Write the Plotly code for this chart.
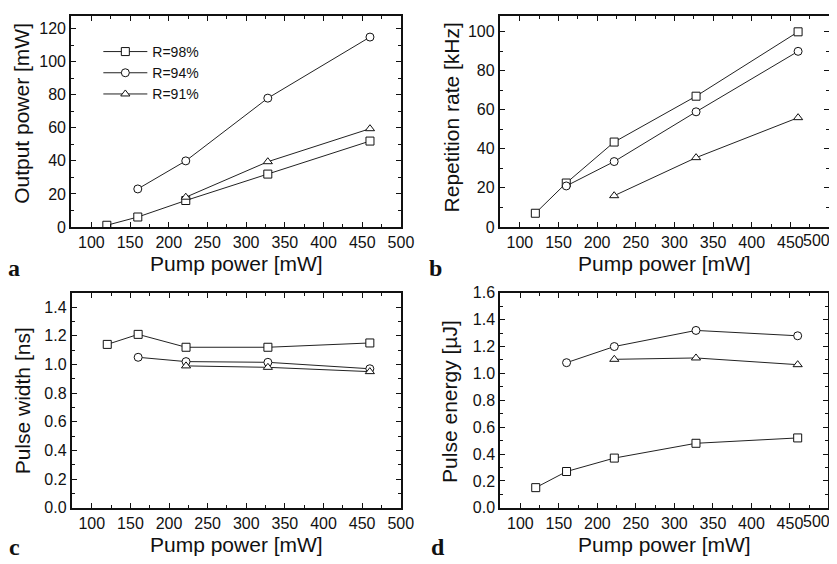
import plotly.graph_objects as go

W, H = 837, 564

pump = [120, 160, 222, 328, 460]
pump_94 = [160, 222, 328, 460]
pump_91 = [222, 328, 460]

# (a) Output power [mW]
out_98 = [1, 6, 16, 32, 52]
out_94 = [23, 40, 78, 115]
out_91 = [18, 39.5, 59.5]

# (b) Repetition rate [kHz]
rep_98 = [7, 22.5, 43.5, 67, 100]
rep_94 = [21, 33.5, 59, 90]
rep_91 = [16, 35.5, 56]

# (c) Pulse width [ns]
pw_98 = [1.14, 1.21, 1.12, 1.12, 1.15]
pw_94 = [1.05, 1.02, 1.015, 0.97]
pw_91 = [0.99, 0.98, 0.95]

# (d) Pulse energy [uJ]
pe_98 = [0.15, 0.27, 0.37, 0.48, 0.52]
pe_94 = [1.08, 1.20, 1.32, 1.28]
pe_91 = [1.105, 1.115, 1.065]

x_ticks = [100, 150, 200, 250, 300, 350, 400, 450, 500]

series_names = ["R=98%", "R=94%", "R=91%"]
symbols = ["square", "circle", "triangle-up"]

panels = [
    ("x", "y", [out_98, out_94, out_91], "Output power [mW]", 130, 20, 10, "a"),
    ("x2", "y2", [rep_98, rep_94, rep_91], "Repetition rate [kHz]", 110, 20, 10, "b"),
    ("x3", "y3", [pw_98, pw_94, pw_91], "Pulse width [ns]", 1.5, 0.2, 0.1, "c"),
    ("x4", "y4", [pe_98, pe_94, pe_91], "Pulse energy [\u00b5J]", 1.6, 0.2, 0.1, "d"),
]

# reference pixel boxes of the frames (left, right, top, bottom)
boxes = [(71, 399.5, 12.3, 227.3), (498, 826, 12.3, 227.3),
         (71.5, 399.3, 293.3, 508.7), (498.5, 825.5, 293.3, 508.7)]

# page placement of the plot div (body margin etc.)
OX, OY, PW, PH = 8, 16, 821, 548

def px(x):
    return (x - OX) / PW

def py(y):
    return 1 - (y - OY) / PH

FONT = "Liberation Sans, Arial, sans-serif"
fig = go.Figure()

xs_all = [pump, pump_94, pump_91]
for i, (xa, ya, data, ytitle, ytop, dt, mdt, letter) in enumerate(panels):
    for j in range(3):
        fig.add_trace(go.Scatter(
            x=xs_all[j], y=data[j], xaxis=xa, yaxis=ya,
            mode="lines+markers", name=series_names[j],
            showlegend=(i == 0),
            line=dict(color="#222", width=1),
            marker=dict(symbol=symbols[j], size=8, color="white",
                        line=dict(color="#111", width=1)),
        ))

layout = dict(
    width=W, height=H, margin=dict(l=0, r=0, t=0, b=0),
    paper_bgcolor="white", plot_bgcolor="white",
    font=dict(family=FONT, color="#111", size=16),
    showlegend=True,
    legend=dict(x=px(98), y=py(36), xanchor="left", yanchor="top",
                bgcolor="rgba(0,0,0,0)", font=dict(size=14, family=FONT, color="#111"),
                itemwidth=44),
)

annotations = []
title_x = [22, 450, 22, 448]
title_y = [114, 118, 402, 402]
letter_pos = [(14, 268), (434, 268), (14, 548), (436, 548)]
xtitle_y = [264, 264, 545, 545]
for i, (xa, ya, data, ytitle, ytop, dt, mdt, letter) in enumerate(panels):
    l, r, t, b = boxes[i]
    tt = max(t, OY)
    yr_top = ytop * (b - tt) / (b - t)
    right_col = i in (1, 3)
    xkey = "xaxis" + ("" if i == 0 else str(i + 1))
    ykey = "yaxis" + ("" if i == 0 else str(i + 1))
    common = dict(showline=True, linewidth=2, linecolor="#111", mirror="allticks",
                  ticks="inside", ticklen=5, tickwidth=1, tickcolor="#111",
                  showgrid=False, zeroline=False, tickfont=dict(size=16, family=FONT, color="#111"))
    tv = x_ticks[:-1] if right_col else x_ticks
    layout[xkey] = dict(common, domain=[px(l), px(r)], range=[74, 500],
                        tickmode="array", tickvals=tv, ticktext=[str(v) for v in tv],
                        anchor=ya, minor=dict(dtick=25, tick0=0, ticks="inside", ticklen=3, tickcolor="#111"))
    layout[ykey] = dict(common, domain=[py(b), py(tt)], range=[0, yr_top], dtick=dt, tick0=0,
                        anchor=xa, minor=dict(dtick=mdt, ticks="inside", ticklen=3, tickcolor="#111"),
                        tickformat=".1f" if dt < 1 else "d")
    if right_col:
        # last tick label kept inside the page edge
        annotations.append(dict(text=str(x_ticks[-1]), x=1.0, y=py(b + 14), xref="paper", yref="paper",
                                showarrow=False, font=dict(size=16, family=FONT, color="#111"),
                                xanchor="right", yanchor="middle"))
    cx = (l + r) / 2
    annotations.append(dict(text="Pump power [mW]", x=px(cx), y=py(xtitle_y[i]), xref="paper", yref="paper",
                            showarrow=False, font=dict(size=21, family=FONT, color="#111"),
                            xanchor="center", yanchor="middle"))
    annotations.append(dict(text=ytitle, x=px(title_x[i]), y=py(title_y[i]), xref="paper", yref="paper",
                            showarrow=False, textangle=-90, font=dict(size=21, family=FONT, color="#111"),
                            xanchor="center", yanchor="middle"))
    lx, ly = letter_pos[i]
    annotations.append(dict(text="<b>%s</b>" % letter, x=px(lx), y=py(ly), xref="paper", yref="paper",
                            showarrow=False, font=dict(size=24, family="Liberation Serif, Times New Roman, serif", color="#111"),
                            xanchor="center", yanchor="middle"))

layout["annotations"] = annotations
fig.update_layout(**layout)
fig.write_html("out.html")
